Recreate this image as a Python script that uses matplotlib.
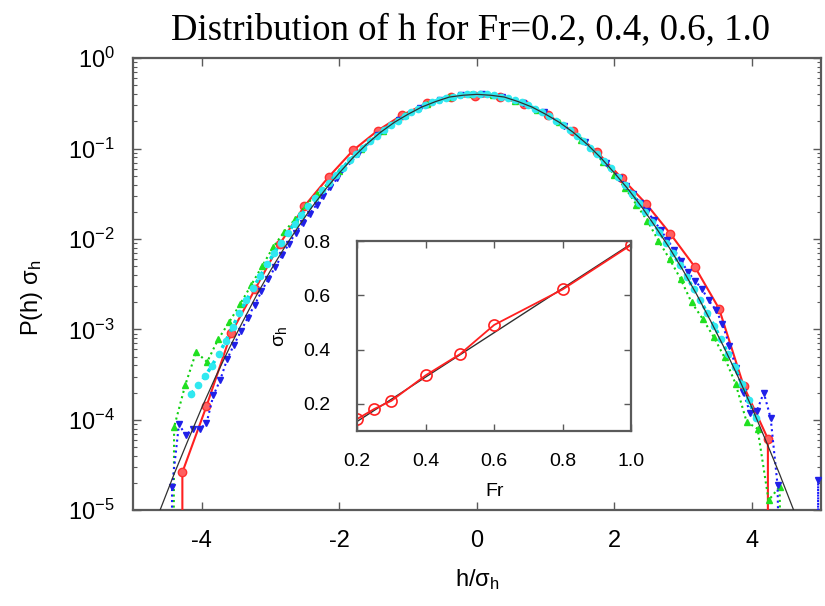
import numpy as np
import matplotlib
matplotlib.use("Agg")
import matplotlib.pyplot as plt

plt.rcParams['font.family'] = ['Liberation Sans', 'DejaVu Sans']
plt.rcParams['mathtext.fontset'] = 'custom'
plt.rcParams['mathtext.rm'] = 'Liberation Sans'
plt.rcParams['mathtext.it'] = 'Liberation Sans'
plt.rcParams['axes.unicode_minus'] = False

# --- data (log10 of P(h) sigma_h) ---
# Fr=1.0 (red, solid)
red_x = [-4.28, -4.28, -3.93, -3.57, -3.22, -2.86, -2.51, -2.15, -1.80, -1.44, -1.09,
         -0.73, -0.38, -0.02, 0.33, 0.69, 1.04, 1.40, 1.75, 2.11, 2.46, 2.81, 3.17,
         3.52, 3.88, 4.23, 4.23]
red_logp = [-8, -4.58, -3.85, -3.04, -2.55, -2.05, -1.64, -1.31, -1.02, -0.80, -0.63,
            -0.50, -0.43, -0.42, -0.43, -0.51, -0.63, -0.81, -1.04, -1.33, -1.61, -1.94,
            -2.31, -2.77, -3.63, -4.21, -8]

# Fr=0.2 (green, dotted)
green_x = [-4.42, -4.40, -4.24, -4.08, -3.92, -3.76, -3.60, -3.44, -3.28, -3.12, -2.96,
           -2.80, -2.64, -2.48, -2.32, -2.16, -2.00, -1.68, -1.36, -1.04, -0.72, -0.40,
           -0.08, 0.24, 0.56, 0.88, 1.20, 1.52, 1.84, 2.00, 2.16, 2.32, 2.48, 2.64, 2.80,
           2.96, 3.12, 3.28, 3.44, 3.60, 3.76, 3.92, 4.08, 4.24, 4.40, 4.46]
green_logp = [-8, -4.08, -3.62, -3.25, -3.36, -3.11, -2.92, -2.72, -2.51, -2.30, -2.09,
              -1.92, -1.78, -1.62, -1.50, -1.38, -1.25, -1.00, -0.80, -0.63, -0.51, -0.43,
              -0.40, -0.41, -0.47, -0.57, -0.71, -0.90, -1.15, -1.29, -1.44, -1.62, -1.80,
              -2.02, -2.22, -2.44, -2.70, -2.88, -3.08, -3.31, -3.60, -4.02, -4.10, -4.89,
              -4.74, -8]

# Fr=0.4 (blue, dotted)
blue_x = [-4.44, -4.43, -4.33, -4.23, -4.13, -4.03, -3.93, -3.83, -3.73, -3.63, -3.53,
          -3.43, -3.33, -3.23, -3.13, -3.03, -2.93, -2.83, -2.73, -2.63, -2.53, -2.43,
          -2.33, -2.23, -2.13, -2.03, -1.73, -1.43, -1.13, -0.83, -0.53, -0.23, 0.07,
          0.37, 0.67, 0.97, 1.27, 1.57, 1.87, 2.07, 2.17, 2.27, 2.37, 2.47, 2.57, 2.67,
          2.77, 2.87, 2.97, 3.07, 3.17, 3.27, 3.37, 3.47, 3.57, 3.67, 3.77, 3.87, 3.97,
          4.07, 4.17, 4.27, 4.37, 4.45, 4.95, 4.96, 4.97]
blue_logp = [-8, -4.74, -4.05, -4.17, -4.10, -4.10, -4.04, -3.73, -3.56, -3.33, -3.17,
             -3.02, -2.87, -2.73, -2.58, -2.44, -2.31, -2.18, -2.05, -1.93, -1.82, -1.72,
             -1.62, -1.52, -1.43, -1.33, -1.06, -0.85, -0.68, -0.55, -0.46, -0.41, -0.40,
             -0.43, -0.50, -0.60, -0.75, -0.93, -1.16, -1.32, -1.41, -1.50, -1.60, -1.69,
             -1.79, -1.90, -2.01, -2.12, -2.24, -2.37, -2.46, -2.55, -2.68, -2.78, -2.94,
             -3.18, -3.43, -3.69, -3.92, -3.90, -3.70, -3.98, -4.72, -8, -8, -4.67, -8]

# Fr=0.6 (cyan, dotted)
cyan_x = [-4.15, -4.05, -3.95, -3.85, -3.75, -3.65, -3.55, -3.45, -3.35, -3.25, -3.15,
          -3.05, -2.95, -2.85, -2.75, -2.65, -2.55, -2.45, -2.35, -2.25, -2.15, -2.05,
          -1.95, -1.85, -1.75, -1.65, -1.55, -1.45, -1.35, -1.25, -1.15, -1.05, -0.95,
          -0.85, -0.75, -0.65, -0.55, -0.45, -0.35, -0.25, -0.15, -0.05, 0.05, 0.15,
          0.25, 0.35, 0.45, 0.55, 0.65, 0.75, 0.85, 0.95, 1.05, 1.15, 1.25, 1.35, 1.45,
          1.55, 1.65, 1.75, 1.85, 1.95, 2.05, 2.15, 2.25, 2.35, 2.45, 2.55, 2.65, 2.75,
          2.85, 2.95, 3.05, 3.15, 3.25, 3.35, 3.45, 3.55, 3.65, 3.75, 3.85, 3.95, 4.05]
cyan_logp = [-3.71, -3.62, -3.52, -3.40, -3.27, -3.13, -2.97, -2.82, -2.68, -2.54, -2.41,
             -2.28, -2.16, -2.04, -1.93, -1.83, -1.73, -1.64, -1.55, -1.46, -1.38, -1.29,
             -1.21, -1.13, -1.06, -0.99, -0.92, -0.86, -0.79, -0.74, -0.69, -0.64, -0.60,
             -0.56, -0.52, -0.49, -0.46, -0.44, -0.43, -0.41, -0.40, -0.40, -0.40, -0.40,
             -0.41, -0.43, -0.44, -0.46, -0.49, -0.52, -0.56, -0.60, -0.64, -0.69, -0.74,
             -0.79, -0.86, -0.92, -0.99, -1.06, -1.14, -1.22, -1.31, -1.40, -1.50, -1.60,
             -1.70, -1.81, -1.92, -2.04, -2.16, -2.29, -2.42, -2.55, -2.68, -2.82, -2.96,
             -3.11, -3.27, -3.42, -3.60, -3.78, -3.98]

# reference Gaussian (thin black)
gauss_x = [-4.8, -4.6, -4.4, -4.2, -4.0, -3.8, -3.6, -3.4, -3.2, -3.0, -2.8, -2.6, -2.4,
           -2.2, -2.0, -1.8, -1.6, -1.4, -1.2, -1.0, -0.8, -0.6, -0.4, -0.2, 0.0, 0.2,
           0.4, 0.6, 0.8, 1.0, 1.2, 1.4, 1.6, 1.8, 2.0, 2.2, 2.4, 2.6, 2.8, 3.0, 3.2, 3.4,
           3.6, 3.8, 4.0, 4.2, 4.4, 4.6, 4.8]
gauss_logp = [-5.40, -4.99, -4.60, -4.23, -3.87, -3.53, -3.21, -2.91, -2.62, -2.35, -2.10,
              -1.87, -1.65, -1.45, -1.27, -1.10, -0.95, -0.82, -0.71, -0.62, -0.54, -0.48,
              -0.43, -0.41, -0.40, -0.41, -0.43, -0.48, -0.54, -0.62, -0.71, -0.82, -0.95,
              -1.10, -1.27, -1.45, -1.65, -1.87, -2.10, -2.35, -2.62, -2.91, -3.21, -3.53,
              -3.87, -4.23, -4.60, -4.99, -5.40]

# inset: sigma_h vs Fr
fr = [0.2, 0.25, 0.3, 0.4, 0.5, 0.6, 0.8, 1.0]
sigma_h = [0.144, 0.181, 0.211, 0.305, 0.383, 0.491, 0.622, 0.786]
fit_fr = [0.2, 1.0]
fit_sigma = [0.135, 0.790]

spine_col = '#5a5a5a'

fig = plt.figure(figsize=(8.25, 6.06), dpi=100)
ax = fig.add_axes([0.161, 0.158, 0.834, 0.746])

ax.plot(red_x, 10 ** np.array(red_logp), '-', color='#ff2020', lw=1.5,
        marker='o', ms=6, mec='#ff3030', mfc='#ff6060', zorder=3)
ax.plot(green_x, 10 ** np.array(green_logp), ':', color='#10d010', lw=1.5,
        marker='^', ms=5, mec='#20e020', mfc='#20e020', zorder=3)
ax.plot(blue_x, 10 ** np.array(blue_logp), ':', color='#1a1aff', lw=1.5,
        marker='v', ms=5, mec='#2020e8', mfc='#2020e8', zorder=4)
ax.plot(cyan_x, 10 ** np.array(cyan_logp), ':', color='#00e0e8', lw=2.5,
        marker='o', ms=4.5, mec='#30e8f0', mfc='#30e8f0', zorder=5)
ax.plot(gauss_x, 10 ** np.array(gauss_logp), '-', color='#303030', lw=0.9, zorder=6)

ax.set_yscale('log')
ax.set_xlim(-5, 5)
ax.set_ylim(1e-5, 1)
ax.set_xticks([-4, -2, 0, 2, 4])
ax.set_yticks([1e-5, 1e-4, 1e-3, 1e-2, 1e-1, 1])
ax.tick_params(which='both', direction='in', top=True, right=True, color=spine_col)
ax.tick_params(which='major', length=6, width=1, labelsize=17)
ax.tick_params(which='minor', length=3, width=0.8)
ax.tick_params(axis='x', pad=14)
ax.tick_params(axis='y', pad=13)
for s in ax.spines.values():
    s.set_color(spine_col)
    s.set_linewidth(1.6)

ax.set_xlabel(r'h/$\mathregular{\sigma_h}$', fontsize=17)
ax.set_ylabel(r'P(h) $\mathregular{\sigma_h}$', fontsize=17)
ax.xaxis.set_label_coords(0.5, -0.126)
ax.yaxis.set_label_coords(-0.128, 0.47)

fig.text(0.57, 0.9356, 'Distribution of h for Fr=0.2, 0.4, 0.6, 1.0',
         family='Liberation Serif', fontsize=26.5, ha='center', va='baseline')

# inset
ins = fig.add_axes([0.433, 0.289, 0.332, 0.313])
ins.plot(fit_fr, fit_sigma, '-', color='#303030', lw=1)
ins.plot(fr, sigma_h, '-', color='#ff2020', lw=1.3, marker='o', ms=8,
         mfc='none', mec='#ff2020', mew=1.2)
ins.set_xlim(0.2, 1.0)
ins.set_ylim(0.1, 0.8)
ins.set_xticks([0.2, 0.4, 0.6, 0.8, 1.0])
ins.set_xticklabels(['0.2', '0.4', '0.6', '0.8', '1.0'])
ins.set_yticks([0.2, 0.4, 0.6, 0.8])
ins.tick_params(direction='in', top=True, right=True, color=spine_col,
                length=5, width=1, labelsize=14)
ins.tick_params(axis='x', pad=16)
ins.tick_params(axis='y', pad=19)
for s in ins.spines.values():
    s.set_color(spine_col)
    s.set_linewidth(1.6)
ins.set_xlabel('Fr', fontsize=14)
ins.set_ylabel(r'$\mathregular{\sigma_h}$', fontsize=14)
ins.xaxis.set_label_coords(0.5, -0.274)
ins.yaxis.set_label_coords(-0.25, 0.5)

plt.savefig('out.png', dpi=100)
plt.close()
